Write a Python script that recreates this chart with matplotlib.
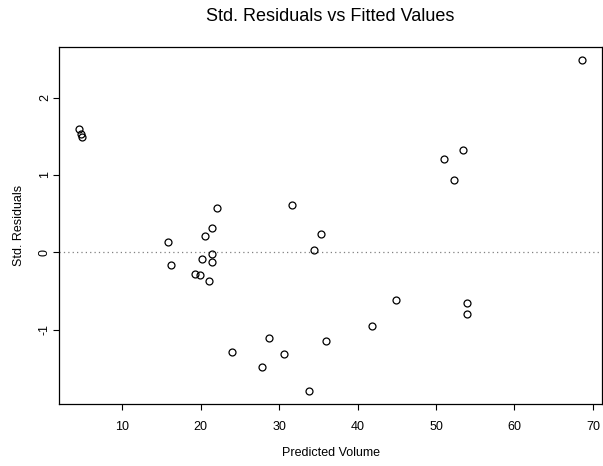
import matplotlib
matplotlib.use("Agg")
import matplotlib.pyplot as plt

# fitted values and standardised residuals
fitted = [4.52, 4.74, 4.87, 15.86, 16.2, 19.22, 19.9, 20.19, 20.5, 21.0,
          21.43, 21.47, 21.47, 22.02, 23.97, 27.83, 28.73, 30.56, 31.62,
          33.82, 34.38, 35.38, 35.99, 41.8, 44.88, 50.98, 52.25, 53.44,
          53.95, 53.95, 68.56]
std_resid = [1.60, 1.53, 1.49, 0.138, -0.166, -0.279, -0.297, -0.081, 0.21,
             -0.374, 0.317, -0.019, -0.124, 0.58, -1.281, -1.484, -1.105,
             -1.311, 0.61, -1.787, 0.028, 0.241, -1.139, -0.95, -0.61,
             1.205, 0.938, 1.325, -0.658, -0.795, 2.486]

x_ticks = [10, 20, 30, 40, 50, 60, 70]
y_ticks = [-1, 0, 1, 2]

plt.rcParams["font.family"] = ["Liberation Sans", "DejaVu Sans"]

W, H = 603, 466
fig = plt.figure(figsize=(W / 100, H / 100), dpi=100)
left, right, top, bottom = 59.3, 601.7, 46.7, 404.0
ax = fig.add_axes([left / W, 1 - bottom / H, (right - left) / W, (bottom - top) / H])

ax.axhline(0, color="#808080", linestyle=(0, (1, 2.5)), linewidth=0.9, zorder=1)
ax.plot(fitted, std_resid, linestyle="none", marker="o", markersize=5,
        markerfacecolor="none", markeredgecolor="black", markeredgewidth=0.9, zorder=3)

# R-style 4% padding
xr = max(fitted) - min(fitted)
yr = max(std_resid) - min(std_resid)
ax.set_xlim(min(fitted) - 0.04 * xr, max(fitted) + 0.04 * xr)
ax.set_ylim(min(std_resid) - 0.04 * yr, max(std_resid) + 0.04 * yr)

ax.set_xticks(x_ticks)
ax.set_yticks(y_ticks)
ax.set_yticklabels([str(t) for t in y_ticks], rotation=90, va="center")
ax.tick_params(direction="out", length=4, width=0.8, labelsize=9, colors="black")
ax.tick_params(axis="x", pad=8)
ax.tick_params(axis="y", pad=2)
for s in ax.spines.values():
    s.set_linewidth(0.9)

ax.set_xlabel("Predicted Volume", fontsize=9, labelpad=10.5)
ax.set_ylabel("Std. Residuals", fontsize=9, labelpad=10)

fig.text((left + right) / 2 / W, 1 - 16.5 / H, "Std. Residuals vs Fitted Values",
         ha="center", va="center", fontsize=13)

fig.savefig("out.png", dpi=100)
